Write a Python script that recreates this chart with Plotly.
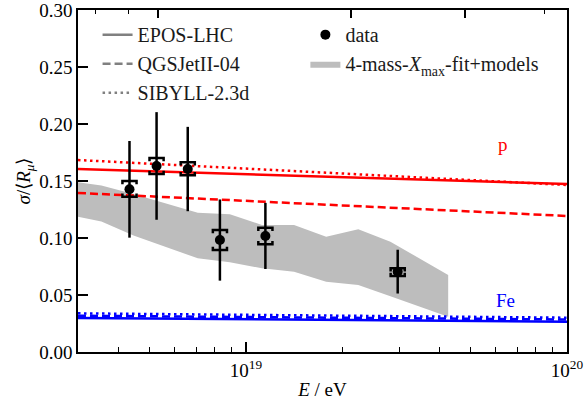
import numpy as np
import plotly.graph_objects as go

# ---------------- data ----------------
energy = [4.34e18, 5.27e18, 6.59e18, 8.30e18, 1.15e19, 2.97e19]
ratio = [0.1427, 0.1632, 0.1605, 0.0982, 0.1018, 0.0705]
stat_err = [0.0424, 0.0472, 0.0370, 0.0356, 0.0290, 0.0192]
sys_up = [0.0073, 0.0070, 0.0059, 0.0088, 0.0072, 0.0029]
sys_dn = [0.0065, 0.0071, 0.0055, 0.0087, 0.0073, 0.0038]

band_lgE = [18.45, 18.55, 18.65, 18.75, 18.85, 18.95, 19.05, 19.15, 19.25, 19.35, 19.45, 19.63]
band_upper = [0.1500, 0.1461, 0.1386, 0.1303, 0.1222, 0.1208, 0.1114, 0.1114, 0.1011, 0.1076, 0.0968, 0.0675]
band_lower = [0.1202, 0.1145, 0.1022, 0.0921, 0.0822, 0.0787, 0.0734, 0.0704, 0.0617, 0.0588, 0.0488, 0.0310]

model_E = [3e18, 1e20]
p_epos = [0.1605, 0.1474]
p_qgs = [0.1395, 0.1193]
p_sib = [0.1684, 0.1465]
fe_epos = [0.0298, 0.0266]
fe_qgs = [0.0318, 0.0285]
fe_sib = [0.0339, 0.0301]

y_ticks = [0.00, 0.05, 0.10, 0.15, 0.20, 0.25, 0.30]
x_major = [1e19, 1e20]
x_major_text = ["10<sup>19</sup>", "10<sup>20</sup>"]
x_minor = [3e18, 4e18, 5e18, 6e18, 7e18, 8e18, 9e18,
           2e19, 3e19, 4e19, 5e19, 6e19, 7e19, 8e19, 9e19]
sqrt_s_major = [100, 200, 300]   # TeV (top axis)
sqrt_s_minor = [80, 90, 400]
M_P = 0.938272e9  # eV

FONT = "Liberation Serif"
RED = "#ff0000"
BLUE = "#0000ff"
GRAY_LEG = "#808080"
F19 = dict(family=FONT, size=19, color="black")
FLEG = dict(family=FONT, size=20, color="#1a1a1a")

def sqrt_s_to_E(v):
    return (np.array(v) * 1e12) ** 2 / (2 * M_P)

fig = go.Figure()

# band
bx = list(10 ** np.array(band_lgE)) + list(10 ** np.array(band_lgE[::-1]))
by = band_upper + band_lower[::-1]
fig.add_trace(go.Scatter(x=bx, y=by, fill="toself", fillcolor="#bdbdbd",
                         line=dict(width=0, color="#bdbdbd"), mode="lines",
                         name="4-mass-<i>X</i><sub>max</sub>-fit+models",
                         legend="legend2", legendrank=2, hoverinfo="skip"))

# model lines
DASH = "8px,4px"
DOT = "2.5px,3.5px"
for vals, col in [(p_epos, RED), (fe_epos, BLUE)]:
    fig.add_trace(go.Scatter(x=model_E, y=vals, mode="lines",
                             line=dict(color=col, width=2.5), showlegend=False))
for vals, col in [(p_qgs, RED), (fe_qgs, BLUE)]:
    fig.add_trace(go.Scatter(x=model_E, y=vals, mode="lines",
                             line=dict(color=col, width=2.5, dash=DASH), showlegend=False))
for vals, col in [(p_sib, RED), (fe_sib, BLUE)]:
    fig.add_trace(go.Scatter(x=model_E, y=vals, mode="lines",
                             line=dict(color=col, width=2.5, dash=DOT), showlegend=False))

# legend entries for models
fig.add_trace(go.Scatter(x=[None], y=[None], mode="lines", name="EPOS-LHC",
                         line=dict(color=GRAY_LEG, width=2.5), legend="legend"))
fig.add_trace(go.Scatter(x=[None], y=[None], mode="lines", name="QGSJetII-04",
                         line=dict(color=GRAY_LEG, width=2.5, dash=DASH), legend="legend"))
fig.add_trace(go.Scatter(x=[None], y=[None], mode="lines", name="SIBYLL-2.3d",
                         line=dict(color=GRAY_LEG, width=2.5, dash=DOT), legend="legend"))

# systematic brackets
w = 0.022   # half width in decades
t = 0.0028  # end tick length
sx, sy = [], []
for e, r, su, sd in zip(energy, ratio, sys_up, sys_dn):
    lo, hi = e * 10 ** (-w), e * 10 ** w
    yu, yl = r + su, r - sd
    sx += [lo, lo, hi, hi, None, lo, lo, hi, hi, None]
    sy += [yu - t, yu, yu, yu - t, None, yl + t, yl, yl, yl + t, None]
fig.add_trace(go.Scatter(x=sx, y=sy, mode="lines", line=dict(color="black", width=2.5),
                         showlegend=False, hoverinfo="skip"))

# data points
fig.add_trace(go.Scatter(x=energy, y=ratio, mode="markers", name="data",
                         marker=dict(color="black", size=10),
                         error_y=dict(type="data", array=stat_err, visible=True,
                                      color="black", thickness=2.5, width=0),
                         legend="legend2", legendrank=1))

# dummy trace for top axis
fig.add_trace(go.Scatter(x=[None], y=[None], xaxis="x2", showlegend=False))

fig.add_annotation(x=np.log10(6.3e19), y=0.182, text="p", showarrow=False,
                   font=dict(color=RED, size=19, family=FONT))
fig.add_annotation(x=np.log10(6.45e19), y=0.0456, text="Fe", showarrow=False,
                   font=dict(color=BLUE, size=19, family=FONT))

xr = [np.log10(3e18), 20]
fig.update_layout(
    width=586, height=400,
    margin=dict(l=78, r=19, t=10, b=48),
    plot_bgcolor="white", paper_bgcolor="white",
    font=F19,
    xaxis=dict(type="log", range=xr, tickvals=x_major, ticktext=x_major_text,
               tickfont=F19, automargin=False, ticklabeloverflow="allow",
               ticks="inside", ticklen=10, tickwidth=1.5, tickcolor="black",
               showline=True, linecolor="black", linewidth=1.5, mirror=True,
               showgrid=False, zeroline=False,
               minor=dict(tickvals=x_minor, ticks="inside", ticklen=5,
                          tickwidth=1.2, tickcolor="black", showgrid=False),
               title=dict(text="<i>E</i> / eV", standoff=4, font=F19)),
    xaxis2=dict(type="log", range=xr, overlaying="x", side="top", automargin=False,
                tickvals=list(sqrt_s_to_E(sqrt_s_major)), showticklabels=False,
                ticks="inside", ticklen=8, tickwidth=1.5, tickcolor="black",
                showgrid=False, zeroline=False, showline=False,
                minor=dict(tickvals=list(sqrt_s_to_E(sqrt_s_minor)), ticks="inside",
                           ticklen=4, tickwidth=1.2, tickcolor="black", showgrid=False)),
    yaxis=dict(range=[0, 0.30], tickvals=y_ticks, tickformat=".2f", tickfont=F19,
               automargin=False, ticklabeloverflow="allow",
               ticks="inside", ticklen=10, tickwidth=1.5, tickcolor="black",
               showline=True, linecolor="black", linewidth=1.5, mirror=True,
               showgrid=False, zeroline=False,
               title=dict(text="<i>σ</i>/⟨<i>R</i><sub><i>μ</i></sub>⟩", standoff=4, font=F19)),
    legend=dict(x=0.04, y=0.985, xanchor="left", yanchor="top",
                bgcolor="rgba(0,0,0,0)", font=FLEG,
                itemwidth=30, tracegroupgap=0),
    legend2=dict(x=0.465, y=0.985, xanchor="left", yanchor="top",
                 bgcolor="rgba(0,0,0,0)", font=FLEG,
                 itemwidth=30, traceorder="normal"),
    showlegend=True,
)

fig.write_html("out.html", config={"displayModeBar": False},
               post_script="document.body.style.margin='0';document.body.style.padding='0';")
